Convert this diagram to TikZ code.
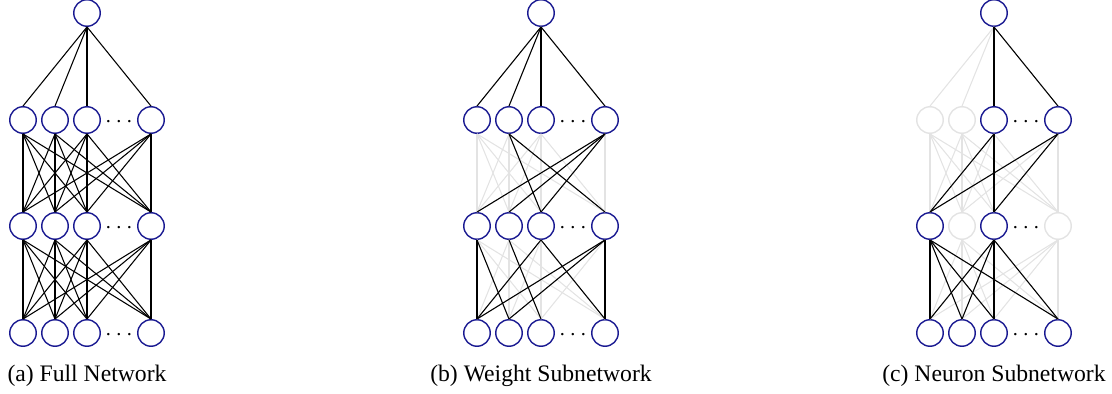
\documentclass[tikz,border=0pt]{standalone}
\usepackage{fontspec}
\setmainfont{Liberation Serif}
\definecolor{netblue}{RGB}{25,25,145}

\begin{document}
\begin{tikzpicture}[
    x=0.4227pt, y=0.4227pt,
    neuron/.style={draw=netblue, circle, minimum size=11.2pt, inner sep=0pt, line width=0.6pt},
    dropped/.style={neuron, draw=gray!22},
    dotsnode/.style={inner sep=0pt, yshift=-1pt},
    kept/.style={line width=0.45pt, black},
    pruned/.style={line width=0.45pt, gray!22},
    caption/.style={inner sep=0pt, anchor=base}
]
\useasboundingbox (0,0) rectangle (1112,394);
\coordinate (capline) at (0,12);

% neurons: full and weight subnetwork
\foreach \p/\dx in {a/0, b/454} {
  \node[neuron] (\p-out) at (87+\dx, 381) {};
  \foreach \r/\y in {h1/274, h2/168, in/61} {
    \foreach \c/\x in {1/23, 2/55, 3/87, 4/151}
      \node[neuron] (\p-\r-\c) at (\x+\dx, \y) {};
    \node[dotsnode] (\p-\r-dots) at (119+\dx, \y) {$\cdots$};
  }
}

% neurons: neuron subnetwork
\node[neuron] (c-out) at (994, 381) {};
\foreach \c/\x/\s in {1/23/dropped, 2/55/dropped, 3/87/neuron, 4/151/neuron}
  \node[\s] (c-h1-\c) at (\x+907, 274) {};
\foreach \c/\x/\s in {1/23/neuron, 2/55/dropped, 3/87/neuron, 4/151/dropped}
  \node[\s] (c-h2-\c) at (\x+907, 168) {};
\foreach \c/\x in {1/23, 2/55, 3/87, 4/151}
  \node[neuron] (c-in-\c) at (\x+907, 61) {};
\foreach \r/\y in {h1/274, h2/168, in/61}
  \node[dotsnode] (c-\r-dots) at (1026, \y) {$\cdots$};

% (a) every weight
\foreach \i in {1,...,4} {
  \draw[kept] (a-out.south) -- (a-h1-\i.north);
  \foreach \j in {1,...,4} {
    \draw[kept] (a-h1-\i.south) -- (a-h2-\j.north);
    \draw[kept] (a-h2-\i.south) -- (a-in-\j.north);
  }
}

% (b) and (c) pruned weights underneath
\foreach \p in {b,c}
  \foreach \i in {1,...,4} {
    \draw[pruned] (\p-out.south) -- (\p-h1-\i.north);
    \foreach \j in {1,...,4} {
      \draw[pruned] (\p-h1-\i.south) -- (\p-h2-\j.north);
      \draw[pruned] (\p-h2-\i.south) -- (\p-in-\j.north);
    }
  }

% (b) kept weights
\foreach \i in {1,...,4}
  \draw[kept] (b-out.south) -- (b-h1-\i.north);
\foreach \i/\j in {2/3, 2/4, 4/1, 4/2, 4/3}
  \draw[kept] (b-h1-\i.south) -- (b-h2-\j.north);
\foreach \i/\j in {1/1, 1/2, 2/3, 3/1, 3/4, 4/1, 4/2, 4/4}
  \draw[kept] (b-h2-\i.south) -- (b-in-\j.north);

% (c) kept neurons
\foreach \i in {3,4}
  \draw[kept] (c-out.south) -- (c-h1-\i.north);
\foreach \i/\j in {3/1, 3/3, 4/1, 4/3}
  \draw[kept] (c-h1-\i.south) -- (c-h2-\j.north);
\foreach \i in {1,3}
  \foreach \j in {1,...,4}
    \draw[kept] (c-h2-\i.south) -- (c-in-\j.north);

\node[caption] (a-cap) at (a-out |- capline) {(a) Full Network};
\node[caption] (b-cap) at (b-out |- capline) {(b) Weight Subnetwork};
\node[caption] (c-cap) at (c-out |- capline) {(c) Neuron Subnetwork};

\end{tikzpicture}
\end{document}
